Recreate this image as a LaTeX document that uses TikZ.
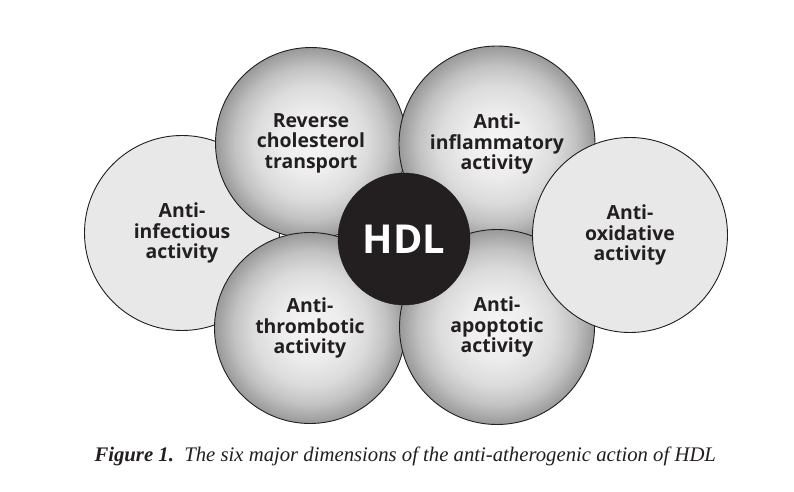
\documentclass[tikz,border=0pt]{standalone}
\usepackage{fontspec}
\newfontfamily\labfont{Open Sans}
\newfontfamily\capfont{Liberation Serif}
\definecolor{ink}{HTML}{231F20}
\definecolor{flat}{HTML}{E8E8E8}
\pgfdeclareradialshading{ballshade}{\pgfpoint{0bp}{0bp}}{%
  color(0bp)=(white!96!black); color(8bp)=(white!93!black);
  color(15bp)=(white!86!black); color(20bp)=(white!76!black);
  color(25bp)=(white!60!black); color(50bp)=(white!60!black)}
\tikzset{
  lbl/.style={font=\labfont\bfseries\fontsize{19.5}{20.5}\selectfont, text=ink, align=center},
  ball/.style={circle, draw=ink, line width=0.9bp, inner sep=0pt, minimum size=#1, shading=ballshade, lbl},
  flatball/.style={circle, draw=ink, line width=0.9bp, inner sep=0pt, minimum size=#1, fill=flat, lbl},
  hdl/.style={circle, draw=ink, fill=ink, inner sep=0pt, minimum size=132bp, text=white,
    font=\labfont\bfseries\fontsize{40}{40}\selectfont}
}
\begin{document}
\begin{tikzpicture}[x=1bp,y=-1bp]
\useasboundingbox[fill=white] (0,0) rectangle (794,492);
\node[flatball=195bp] (inf) at (182,233) {Anti-\\infectious\\activity};
\node[ball=191bp] (rct) at (311,143) {Reverse\\cholesterol\\transport};
\node[ball=196bp] (inflam) at (497,144) {Anti-\\inflammatory\\activity};
\node[ball=191bp] (thr) at (310,328) {Anti-\\thrombotic\\activity};
\node[ball=195bp] (apo) at (497,327) {Anti-\\apoptotic\\activity};
\node[flatball=195bp] (oxi) at (630,235) {Anti-\\oxidative\\activity};
\node[hdl] (core) at (404,239) {HDL};
\node[anchor=base west, text=ink, font=\capfont\itshape\fontsize{20.8}{22}\selectfont] (cap) at (91,461)
  {\textbf{Figure 1.}\ \ The six major dimensions of the anti-atherogenic action of HDL};
\end{tikzpicture}
\end{document}
